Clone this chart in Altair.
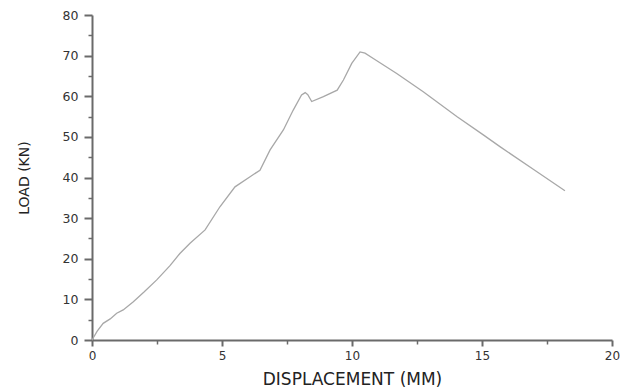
import altair as alt
import pandas as pd

disp = [0, 0.2, 0.43, 0.7, 0.95, 1.2, 1.59, 2.0, 2.49, 3.0, 3.38, 3.77, 4.35, 4.92,
        5.5, 6.08, 6.46, 6.85, 7.36, 7.74, 8.06, 8.2, 8.3, 8.45, 8.9, 9.43, 9.67,
        9.99, 10.31, 10.5, 10.82, 11.72, 12.74, 14.03, 15.05, 15.69, 17.0, 18.19]
load = [0, 2.2, 4.1, 5.2, 6.6, 7.4, 9.4, 11.8, 14.8, 18.3, 21.3, 23.8, 27.1, 32.8,
        37.7, 40.2, 41.8, 46.8, 51.7, 56.6, 60.3, 60.9, 60.4, 58.7, 59.9, 61.5, 64.0,
        68.1, 70.9, 70.6, 69.3, 65.6, 61.1, 55.0, 50.5, 47.6, 41.9, 36.75]

x_major = [0, 5, 10, 15, 20]
x_minor = [2.5, 7.5, 12.5, 17.5]
y_major = [0, 10, 20, 30, 40, 50, 60, 70, 80]
y_minor = [5, 15, 25, 35, 45, 55, 65, 75]

df = pd.DataFrame({"x": disp, "y": load})

AX = "#6a6a6a"
FONT = "DejaVu Sans"

xs = alt.Scale(domain=[0, 20], nice=False, zero=False)
ys = alt.Scale(domain=[0, 80], nice=False, zero=False)

main = alt.Chart(df).mark_line(color="#a8a8a8", strokeWidth=1.3).encode(
    x=alt.X("x:Q", scale=xs,
            axis=alt.Axis(orient="bottom", values=x_major, title="DISPLACEMENT (MM)",
                          grid=False, domainColor=AX, domainWidth=2, tickColor=AX,
                          tickWidth=2, tickSize=6, labelFont=FONT, labelFontSize=12,
                          labelColor="#333333", labelPadding=4, labelFlush=False,
                          titleFont=FONT, titleFontSize=17, titleFontWeight="normal",
                          titleColor="#222222", titlePadding=10)),
    y=alt.Y("y:Q", scale=ys,
            axis=alt.Axis(orient="left", values=y_major, title="LOAD (KN)",
                          grid=False, domainColor=AX, domainWidth=2, tickColor=AX,
                          tickWidth=2, tickSize=8, labelFont=FONT, labelFontSize=12.5,
                          labelColor="#333333", labelPadding=6, labelFlush=False,
                          titleFont=FONT, titleFontSize=14, titleFontWeight="normal",
                          titleColor="#222222", titlePadding=31)),
    order="x:Q",
)

minor = alt.Chart(df).mark_line(strokeOpacity=0).encode(
    x=alt.X("x:Q", scale=xs,
            axis=alt.Axis(orient="bottom", values=x_minor, title=None, labels=False,
                          grid=False, domain=False, tickColor=AX, tickWidth=1.5,
                          tickSize=4)),
    y=alt.Y("y:Q", scale=ys,
            axis=alt.Axis(orient="left", values=y_minor, title=None, labels=False,
                          grid=False, domain=False, tickColor=AX, tickWidth=1.5,
                          tickSize=4)),
    order="x:Q",
)

chart = alt.layer(main, minor).resolve_axis(x="independent", y="independent").properties(
    width=520, height=325,
    background="white",
    autosize=alt.AutoSizeParams(type="none"),
    padding={"left": 84, "top": 7, "right": 8, "bottom": 48},
).configure_view(strokeWidth=0, stroke="transparent")

chart.save("out.html", embed_options={"renderer": "svg", "actions": False})
